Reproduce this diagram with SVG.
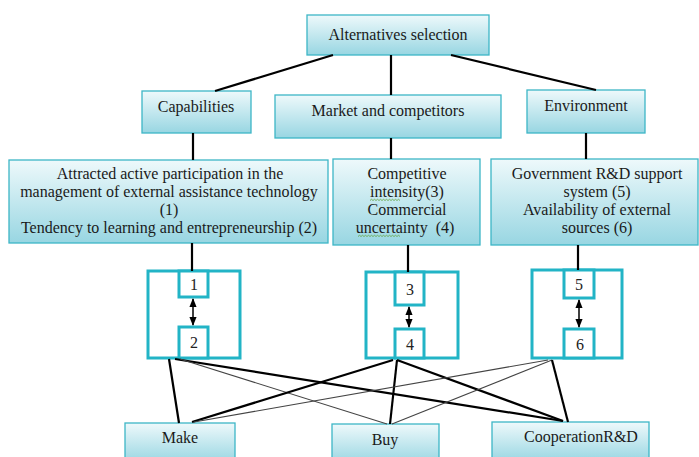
<svg xmlns="http://www.w3.org/2000/svg" width="699" height="457" viewBox="0 0 699 457">
<defs>
<linearGradient id="fillG" x1="0" y1="0" x2="0" y2="1">
<stop offset="0" stop-color="#eef9fb"/>
<stop offset="1" stop-color="#98d6e2"/>
</linearGradient>
<marker id="ah" viewBox="0 0 10 10" refX="9" refY="5" markerWidth="6" markerHeight="6" orient="auto-start-reverse">
<path d="M0,1 L10,5 L0,9 z" fill="#000"/>
</marker>
</defs>
<style>
.box{fill:url(#fillG);stroke:#3db6c6;stroke-width:1.3}
.hb{fill:#fff;stroke:#22b4c6;stroke-width:3}
.t{font-family:"Liberation Serif","DejaVu Serif",serif;font-size:16px;fill:#1a1a1a;text-anchor:middle}
.n{font-family:"Liberation Serif","DejaVu Serif",serif;font-size:16px;fill:#222;text-anchor:middle}
.ln{stroke:#000;stroke-width:2.2;fill:none}
.tn{stroke:#444;stroke-width:1.1;fill:none}
.wv{stroke:#6aa84f;stroke-width:0.9;fill:none}
</style>
<rect width="699" height="457" fill="#fff"/>

<g id="alternatives">
<rect class="box" x="307" y="15" width="182" height="40"/>
<text class="t" x="398" y="40">Alternatives selection</text>
</g>
<g id="capabilities">
<rect class="box" x="142" y="91" width="109" height="42"/>
<text class="t" x="196" y="112">Capabilities</text>
</g>
<g id="market">
<rect class="box" x="275" y="95" width="226" height="43"/>
<text class="t" x="388" y="116">Market and competitors</text>
</g>
<g id="environment">
<rect class="box" x="527" y="90" width="118" height="43"/>
<text class="t" x="586" y="111">Environment</text>
</g>

<g id="cap-detail">
<rect class="box" x="9" y="160" width="319" height="83"/>
<text class="t" x="170" y="179">Attracted active participation in the</text>
<text class="t" x="169" y="197">management of external assistance technology</text>
<text class="t" x="169" y="215">(1)</text>
<text class="t" x="169" y="233">Tendency to learning and entrepreneurship (2)</text>
</g>
<g id="market-detail">
<rect class="box" x="333" y="159" width="147" height="86"/>
<text class="t" x="407" y="179">Competitive</text>
<text class="t" x="407" y="197">intensity(3)</text>
<text class="t" x="407" y="215">Commercial</text>
<text class="t" x="405" y="233" xml:space="preserve">uncertainty  (4)</text>
<path class="wv" d="M370,200.5 l1.5,-1.2 l1.5,1.2 l1.5,-1.2 l1.5,1.2 l1.5,-1.2 l1.5,1.2 l1.5,-1.2 l1.5,1.2 l1.5,-1.2 l1.5,1.2 l1.5,-1.2 l1.5,1.2 l1.5,-1.2 l1.5,1.2 l1.5,-1.2 l1.5,1.2 l1.5,-1.2 l1.5,1.2 l1.5,-1.2 l1.5,1.2"/>
<path class="wv" d="M358,236.5 l1.5,-1.2 l1.5,1.2 l1.5,-1.2 l1.5,1.2 l1.5,-1.2 l1.5,1.2 l1.5,-1.2 l1.5,1.2 l1.5,-1.2 l1.5,1.2 l1.5,-1.2 l1.5,1.2 l1.5,-1.2 l1.5,1.2 l1.5,-1.2 l1.5,1.2 l1.5,-1.2 l1.5,1.2 l1.5,-1.2 l1.5,1.2 l1.5,-1.2 l1.5,1.2 l1.5,-1.2 l1.5,1.2 l1.5,-1.2 l1.5,1.2 l1.5,-1.2 l1.5,1.2"/>
</g>
<g id="env-detail">
<rect class="box" x="491" y="159" width="207" height="86"/>
<text class="t" x="597" y="179">Government R&amp;D support</text>
<text class="t" x="597" y="197">system (5)</text>
<text class="t" x="597" y="215">Availability of external</text>
<text class="t" x="597" y="233">sources (6)</text>
</g>

<g id="h1">
<rect class="hb" x="148" y="271" width="92" height="87"/>
<rect class="hb" x="179" y="271" width="29" height="26"/>
<rect class="hb" x="179" y="327" width="29" height="31"/>
<text class="n" x="194" y="290">1</text>
<text class="n" x="194" y="348">2</text>
</g>
<g id="h2">
<rect class="hb" x="366" y="272" width="92" height="86"/>
<rect class="hb" x="395" y="272" width="29" height="33"/>
<rect class="hb" x="395" y="329" width="29" height="29"/>
<text class="n" x="410" y="295">3</text>
<text class="n" x="410" y="350">4</text>
</g>
<g id="h3">
<rect class="hb" x="532" y="270" width="90" height="88"/>
<rect class="hb" x="564" y="270" width="30" height="28"/>
<rect class="hb" x="564" y="329" width="30" height="29"/>
<text class="n" x="579" y="290">5</text>
<text class="n" x="580" y="350">6</text>
</g>

<g id="make">
<rect class="box" x="125" y="423" width="110" height="40"/>
<text class="t" x="180" y="443">Make</text>
</g>
<g id="buy">
<rect class="box" x="332" y="424" width="107" height="40"/>
<text class="t" x="385" y="445">Buy</text>
</g>
<g id="coop">
<rect class="box" x="492" y="422" width="157" height="40"/>
<text class="t" x="581" y="442">CooperationR&amp;D</text>
</g>

<g id="connectors">
<line class="ln" x1="333" y1="55" x2="215" y2="91"/>
<line class="ln" x1="391" y1="55" x2="391" y2="95"/>
<line class="ln" x1="451" y1="55" x2="596" y2="90"/>
<line class="ln" x1="193" y1="133" x2="193" y2="160"/>
<line class="ln" x1="391" y1="138" x2="391" y2="159"/>
<line class="ln" x1="586" y1="133" x2="586" y2="159"/>
<line class="ln" x1="192" y1="243" x2="192" y2="271"/>
<line class="ln" x1="408" y1="245" x2="408" y2="272"/>
<line class="ln" x1="578" y1="245" x2="578" y2="270"/>
<line stroke="#000" stroke-width="1.5" x1="193" y1="299" x2="193" y2="325" marker-start="url(#ah)" marker-end="url(#ah)"/>
<line stroke="#000" stroke-width="1.5" x1="409" y1="307" x2="409" y2="327" marker-start="url(#ah)" marker-end="url(#ah)"/>
<line stroke="#000" stroke-width="1.5" x1="579" y1="300" x2="579" y2="327" marker-start="url(#ah)" marker-end="url(#ah)"/>
<line class="ln" x1="169" y1="359" x2="179" y2="423"/>
<line class="ln" x1="175" y1="359" x2="563" y2="421"/>
<line class="tn" x1="180" y1="359" x2="387" y2="424"/>
<line class="ln" x1="393" y1="360" x2="192" y2="422"/>
<line class="ln" x1="397" y1="360" x2="390" y2="424"/>
<line class="ln" x1="397" y1="360" x2="563" y2="421"/>
<line class="tn" x1="548" y1="360" x2="194" y2="422"/>
<line class="tn" x1="552" y1="360" x2="392" y2="424"/>
<line class="ln" x1="552" y1="360" x2="568" y2="422"/>
</g>
</svg>
